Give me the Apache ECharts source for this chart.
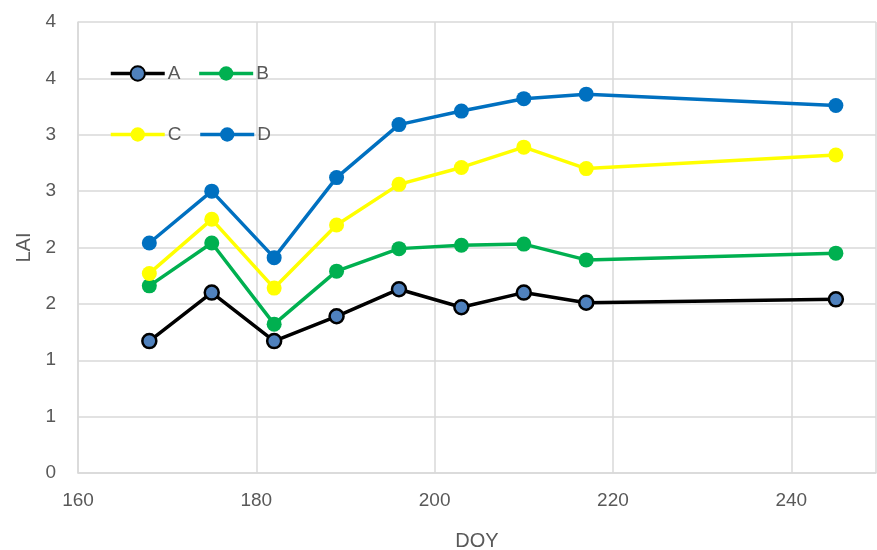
<!DOCTYPE html>
<html>
<head>
<meta charset="utf-8">
<script src="https://cdn.jsdelivr.net/npm/echarts@6/dist/echarts.min.js"></script>
<style>html,body{margin:0;padding:0;background:#fff}#c{width:877px;height:550px}</style>
</head>
<body>
<div id="c"></div>
<script>
const doy = [168, 175, 182, 189, 196, 203, 210, 217, 245];
const seriesA = [1.17, 1.60, 1.17, 1.39, 1.63, 1.47, 1.60, 1.51, 1.54];
const seriesB = [1.66, 2.04, 1.32, 1.79, 1.99, 2.02, 2.03, 1.89, 1.95];
const seriesC = [1.77, 2.25, 1.64, 2.20, 2.56, 2.71, 2.89, 2.70, 2.82];
const seriesD = [2.04, 2.50, 1.91, 2.62, 3.09, 3.21, 3.32, 3.36, 3.26];
const names = ['A', 'B', 'C', 'D'];

const font = 'Liberation Sans Narrow, Liberation Sans, sans-serif';
const grey = '#595959';
const gridC = '#d9d9d9';

function pairs(vals) { return doy.map((d, i) => [d, vals[i]]); }

const chart = echarts.init(document.getElementById('c'), null, {renderer: 'canvas'});
const mk = (name, vals, color, fill, border, size) => ({
  name: name, type: 'line', data: pairs(vals),
  symbol: 'circle', symbolSize: size,
  lineStyle: {color: color, width: 3.5},
  itemStyle: {color: fill, borderColor: border, borderWidth: border === fill ? 0 : 2.5},
  emphasis: {disabled: true}, animation: false, z: 3
});
const legendText = {color: grey, fontSize: 19, fontFamily: font, padding: [0,0,0,-2]};
const legendLine = {width: 3.5};
chart.setOption({
  animation: false,
  grid: {left: 78, top: 22, bottom: 77, width: 798, outerBoundsMode: 'none', containLabel: false},
  legend: [
    {data: [names[0], names[1]], left: 104, top: 59, itemWidth: 54, itemHeight: 18, itemGap: 17,
     lineStyle: legendLine, textStyle: legendText},
    {data: [names[2], names[3]], left: 104, top: 120, itemWidth: 54, itemHeight: 18, itemGap: 17,
     lineStyle: legendLine, textStyle: legendText}
  ],
  xAxis: {
    type: 'value', min: 160, max: 249.5, interval: 20,
    name: 'DOY', nameLocation: 'middle', nameGap: 58,
    nameTextStyle: {color: grey, fontSize: 20, fontFamily: font},
    axisLine: {show: true, lineStyle: {color: gridC, width: 1.5}},
    axisTick: {show: false},
    axisLabel: {color: grey, fontSize: 19, fontFamily: font, margin: 18,
      showMaxLabel: false, formatter: v => String(v)},
    splitLine: {show: true, lineStyle: {color: gridC, width: 1.5}}
  },
  yAxis: {
    type: 'value', min: 0, max: 4, interval: 0.5,
    name: 'LAI', nameLocation: 'middle', nameGap: 44,
    nameTextStyle: {color: grey, fontSize: 20, fontFamily: font},
    axisLine: {show: true, lineStyle: {color: gridC, width: 1.5}},
    axisTick: {show: false},
    axisLabel: {color: grey, fontSize: 19, fontFamily: font, margin: 22,
      formatter: v => String(Math.round(v))},
    splitLine: {show: true, lineStyle: {color: gridC, width: 1.5}}
  },
  series: [
    mk('A', seriesA, '#000000', '#4F81BD', '#000000', 14),
    mk('B', seriesB, '#00B050', '#00B050', '#00B050', 15),
    mk('C', seriesC, '#FFFF00', '#FFFF00', '#FFFF00', 15),
    mk('D', seriesD, '#0070C0', '#0070C0', '#0070C0', 15)
  ]
});
</script>
</body>
</html>
